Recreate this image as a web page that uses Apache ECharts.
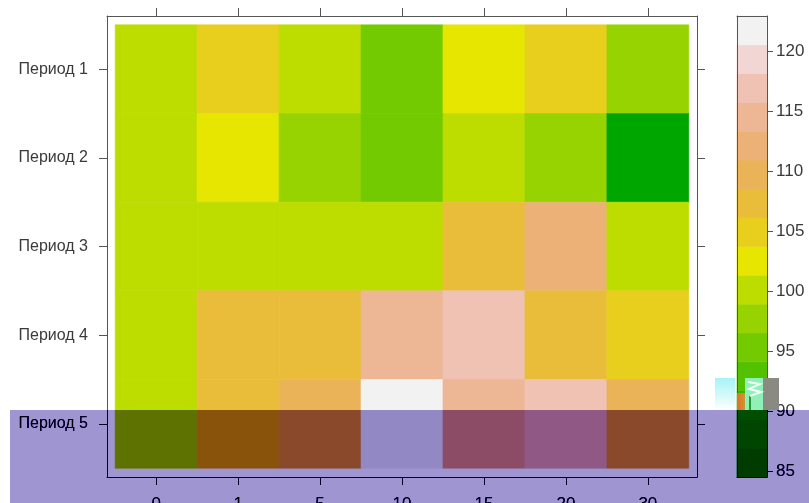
<!DOCTYPE html>
<html>
<head>
<meta charset="utf-8">
<script src="https://cdn.jsdelivr.net/npm/echarts@6/dist/echarts.min.js"></script>
<style>
html,body{margin:0;padding:0;background:#fff;}
#c{width:809px;height:503px;}
</style>
</head>
<body>
<div id="c"></div>
<script>
// ---- data ----
const xLabels = ['0', '1', '5', '10', '15', '20', '30'];
const yLabels = ['Период 1', 'Период 2', 'Период 3', 'Период 4', 'Период 5'];
const period1 = [100.0, 105.0, 100.5, 95.5, 102.5, 105.2, 97.5];
const period2 = [100.0, 102.8, 97.8, 95.2, 100.3, 97.4, 85.9];
const period3 = [100.0, 100.0, 100.0, 100.0, 107.5, 112.0, 100.2];
const period4 = [100.0, 107.2, 107.5, 114.2, 117.0, 107.0, 104.8];
const period5 = [100.0, 107.4, 109.6, 121.5, 114.5, 116.6, 109.8];
const keyTicks = [85, 90, 95, 100, 105, 110, 115, 120];
const keyBreaks = [84.5, 86.9, 89.3, 91.7, 94.1, 96.5, 98.9, 101.3, 103.7, 106.1,
                   108.5, 110.9, 113.3, 115.7, 118.1, 120.5, 122.9];
const terrain16 = ['#00A600', '#19AF00', '#35B800', '#53C100', '#74CA00', '#97D300',
                   '#BDDC00', '#E6E600', '#E8CF1D', '#E9BD3A', '#EAB358', '#ECB176',
                   '#EDB694', '#EFC2B3', '#F1D6D3', '#F2F2F2'];

const rows = [period1, period2, period3, period4, period5];
const cells = [];
rows.forEach((r, yi) => r.forEach((v, xi) => cells.push([xi + 1, yi + 1, v])));
const bands = [];
for (let i = 0; i < keyBreaks.length - 1; i++) bands.push([keyBreaks[i], keyBreaks[i + 1], i]);

function colorFor(v) {
  for (let i = 0; i < keyBreaks.length - 1; i++) {
    if (v >= keyBreaks[i] && v < keyBreaks[i + 1]) return terrain16[i];
  }
  return v < keyBreaks[0] ? terrain16[0] : terrain16[terrain16.length - 1];
}

const FONT = 'Liberation Sans, Arial, sans-serif';
const TXT = '#3a3a3a';
const LINE = '#555';
const xIdx = xLabels.map((_, i) => i + 1);
const yIdx = yLabels.map((_, i) => i + 1);

const chart = echarts.init(document.getElementById('c'), null, {renderer: 'canvas'});

const frameAxisBase = {
  type: 'value', splitLine: {show: false},
  axisLine: {show: true, onZero: false, lineStyle: {color: LINE, width: 1}},
};

const overlayShape = {x: 10, y: 410, width: 799, height: 93};

chart.setOption({
  backgroundColor: '#ffffff',
  animation: false,
  grid: [
    {left: 107, top: 16, width: 590, height: 461, outerBoundsMode: 'none', containLabel: false},
    {left: 737, top: 16, width: 30, height: 461, outerBoundsMode: 'none', containLabel: false}
  ],
  xAxis: [
    Object.assign({}, frameAxisBase, {
      gridIndex: 0, position: 'bottom', min: 0.4, max: 7.6,
      axisTick: {show: true, customValues: xIdx, length: 8, lineStyle: {color: LINE}},
      axisLabel: {show: true, customValues: xIdx, formatter: v => xLabels[Math.round(v) - 1] || '',
                  margin: 19, fontSize: 17, color: TXT, fontFamily: FONT}
    }),
    Object.assign({}, frameAxisBase, {
      gridIndex: 0, position: 'top', min: 0.4, max: 7.6,
      axisTick: {show: true, customValues: xIdx, length: 8, lineStyle: {color: LINE}},
      axisLabel: {show: false}
    }),
    Object.assign({}, frameAxisBase, {
      gridIndex: 1, position: 'bottom', min: 0, max: 1, z: 10,
      axisTick: {show: false}, axisLabel: {show: false}
    }),
    Object.assign({}, frameAxisBase, {
      gridIndex: 1, position: 'top', min: 0, max: 1, z: 10,
      axisTick: {show: false}, axisLabel: {show: false}
    })
  ],
  yAxis: [
    Object.assign({}, frameAxisBase, {
      gridIndex: 0, position: 'left', min: 0.4, max: 5.6, inverse: true,
      axisTick: {show: true, customValues: yIdx, length: 8, lineStyle: {color: LINE}},
      axisLabel: {show: true, customValues: yIdx, formatter: v => yLabels[Math.round(v) - 1] || '',
                  margin: 19, fontSize: 16, color: TXT, fontFamily: FONT}
    }),
    Object.assign({}, frameAxisBase, {
      gridIndex: 0, position: 'right', min: 0.4, max: 5.6, inverse: true,
      axisTick: {show: true, customValues: yIdx, length: 8, lineStyle: {color: LINE}},
      axisLabel: {show: false}
    }),
    Object.assign({}, frameAxisBase, {
      gridIndex: 1, position: 'right', min: keyBreaks[0], max: keyBreaks[keyBreaks.length - 1], z: 10,
      axisTick: {show: true, customValues: keyTicks, length: 6, lineStyle: {color: LINE}},
      axisLabel: {show: true, customValues: keyTicks, margin: 9, fontSize: 17, color: TXT, fontFamily: FONT}
    }),
    Object.assign({}, frameAxisBase, {
      gridIndex: 1, position: 'left', min: keyBreaks[0], max: keyBreaks[keyBreaks.length - 1], z: 10,
      axisTick: {show: false}, axisLabel: {show: false}
    })
  ],
  series: [
    {
      type: 'custom', xAxisIndex: 0, yAxisIndex: 0, data: cells,
      encode: {x: 0, y: 1},
      renderItem: function (params, api) {
        const x = api.value(0), y = api.value(1), v = api.value(2);
        const p1 = api.coord([x - 0.5, y - 0.5]);
        const p2 = api.coord([x + 0.5, y + 0.5]);
        const c = colorFor(v);
        return {
          type: 'rect',
          shape: {x: Math.min(p1[0], p2[0]), y: Math.min(p1[1], p2[1]),
                  width: Math.abs(p2[0] - p1[0]), height: Math.abs(p2[1] - p1[1])},
          style: {fill: c, stroke: c, lineWidth: 0.6}
        };
      }
    },
    {
      type: 'custom', xAxisIndex: 2, yAxisIndex: 2, data: bands,
      encode: {y: [0, 1]},
      renderItem: function (params, api) {
        const lo = api.value(0), hi = api.value(1), i = api.value(2);
        const p1 = api.coord([0, hi]);
        const p2 = api.coord([1, lo]);
        const c = terrain16[i];
        return {
          type: 'rect',
          shape: {x: p1[0], y: p1[1], width: p2[0] - p1[0], height: p2[1] - p1[1]},
          style: {fill: c, stroke: c, lineWidth: 0.6}
        };
      }
    }
  ],
  graphic: [
    // glitch strip near the colour key
    {type: 'rect', z: 50, silent: true, shape: {x: 715, y: 378, width: 20, height: 32},
     style: {fill: new echarts.graphic.LinearGradient(0, 0, 0, 1, [
       {offset: 0, color: '#a6f4f8'}, {offset: 0.6, color: '#d8fafa'}, {offset: 1, color: '#ffffff'}])}},
    {type: 'rect', z: 50, silent: true, shape: {x: 737, y: 393, width: 8, height: 17},
     style: {fill: new echarts.graphic.LinearGradient(0, 0, 1, 0, [
       {offset: 0, color: '#e86a2a'}, {offset: 1, color: '#c89a30'}])}},
    {type: 'rect', z: 50, silent: true, shape: {x: 745, y: 378, width: 18, height: 32},
     style: {fill: '#8ff0b8'}},
    {type: 'rect', z: 51, silent: true, shape: {x: 749, y: 396, width: 2, height: 14},
     style: {fill: '#2a9a30'}},
    {type: 'polyline', z: 51, silent: true,
     shape: {points: [[748, 382], [760, 384], [749, 389], [761, 392], [750, 396]]},
     style: {stroke: '#f4fff8', lineWidth: 2, fill: null}},
    {type: 'rect', z: 50, silent: true, shape: {x: 763, y: 378, width: 16, height: 32},
     style: {fill: '#8a8a82'}},
    // linear-burn band across the bottom
    {type: 'rect', z: 100, silent: true, shape: overlayShape, style: {fill: '#ffffff', blend: 'difference'}},
    {type: 'rect', z: 101, silent: true, shape: overlayShape, style: {fill: 'rgb(96,106,46)', blend: 'lighter'}},
    {type: 'rect', z: 102, silent: true, shape: overlayShape, style: {fill: '#ffffff', blend: 'difference'}}
  ]
});
</script>
</body>
</html>
